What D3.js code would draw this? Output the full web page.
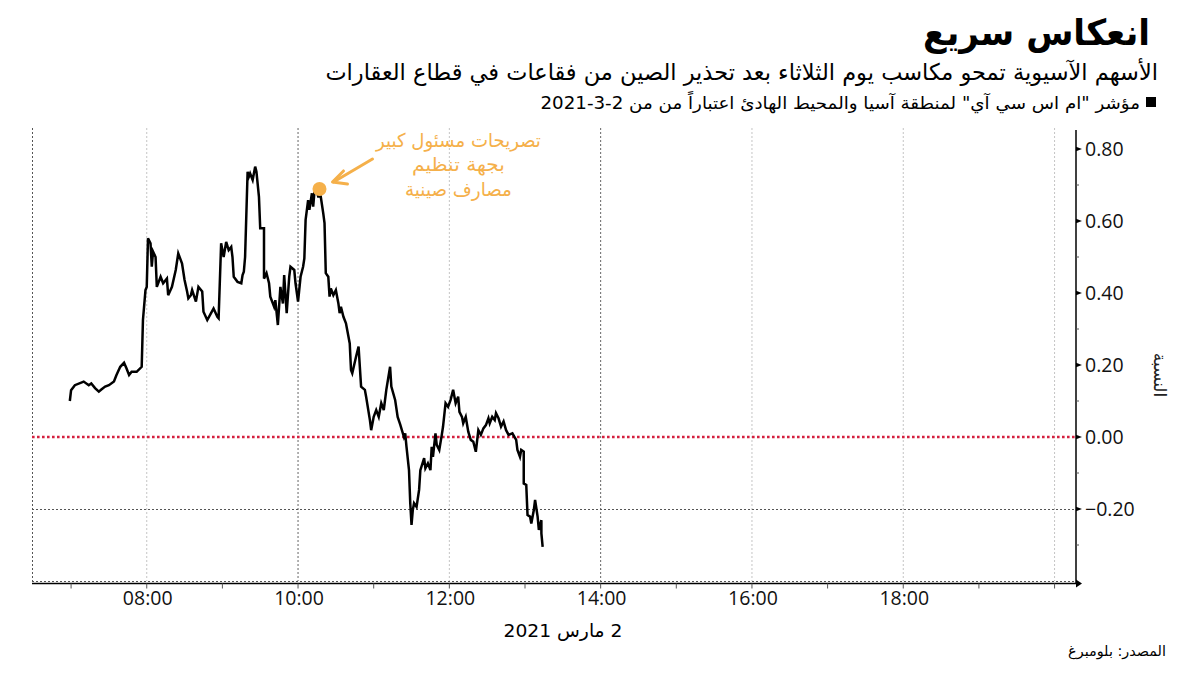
<!DOCTYPE html>
<html><head><meta charset="utf-8">
<script src="https://cdn.jsdelivr.net/npm/d3@7"></script>
<style>body{margin:0;background:#fff}svg{display:block}</style>
</head><body><svg id="c" width="1200" height="675"></svg>
<script>
// ---- data ----
const times = ["06:59","07:00","07:03","07:10","07:14","07:16","07:19","07:22","07:24","07:27","07:30","07:34","07:36","07:39","07:42","07:44","07:46","07:48","07:52","07:56","07:57","07:59","08:00","08:01","08:03","08:04","08:05","08:07","08:08","08:11","08:13","08:16","08:17","08:20","08:23","08:25","08:28","08:30","08:32","08:33","08:35","08:36","08:39","08:41","08:44","08:45","08:48","08:51","08:53","08:56","08:57","08:59","09:01","09:03","09:05","09:07","09:08","09:09","09:12","09:15","09:16","09:17","09:18","09:20","09:21","09:22","09:24","09:26","09:27","09:29","09:30","09:33","09:33","09:35","09:37","09:38","09:41","09:42","09:44","09:46","09:48","09:49","09:51","09:53","09:54","09:57","09:58","10:00","10:02","10:04","10:05","10:06","10:08","10:09","10:11","10:12","10:13","10:15","10:16","10:18","10:20","10:21","10:22","10:24","10:25","10:26","10:28","10:30","10:32","10:33","10:34","10:36","10:38","10:41","10:42","10:43","10:46","10:48","10:50","10:53","10:54","10:57","10:58","11:00","11:02","11:04","11:06","11:08","11:10","11:13","11:14","11:17","11:19","11:21","11:24","11:25","11:26","11:28","11:29","11:30","11:31","11:32","11:34","11:36","11:37","11:40","11:41","11:43","11:45","11:46","11:47","11:49","11:50","11:52","11:54","11:55","11:57","11:59","12:01","12:03","12:05","12:07","12:08","12:10","12:11","12:13","12:15","12:17","12:19","12:21","12:23","12:25","12:27","12:29","12:31","12:32","12:34","12:36","12:37","12:39","12:41","12:43","12:45","12:47","12:50","12:53","12:54","12:56","12:57","12:59","12:59","13:01","13:02","13:04","13:05","13:07","13:08","13:10","13:11","13:13","13:13","13:14"];
const values = [0.100,0.130,0.144,0.154,0.144,0.149,0.136,0.126,0.132,0.140,0.144,0.154,0.172,0.195,0.206,0.190,0.172,0.181,0.181,0.195,0.325,0.408,0.417,0.552,0.538,0.473,0.515,0.500,0.417,0.445,0.427,0.440,0.394,0.417,0.464,0.510,0.482,0.436,0.404,0.385,0.394,0.408,0.376,0.417,0.404,0.348,0.325,0.344,0.357,0.334,0.330,0.538,0.500,0.542,0.519,0.528,0.500,0.445,0.431,0.427,0.450,0.459,0.500,0.737,0.723,0.732,0.714,0.751,0.737,0.667,0.580,0.580,0.440,0.455,0.427,0.390,0.362,0.380,0.311,0.417,0.371,0.450,0.344,0.445,0.473,0.464,0.427,0.376,0.445,0.473,0.496,0.603,0.658,0.631,0.677,0.640,0.681,0.685,0.668,0.668,0.621,0.594,0.455,0.445,0.390,0.413,0.394,0.408,0.371,0.344,0.362,0.334,0.316,0.260,0.186,0.177,0.223,0.251,0.140,0.131,0.112,0.047,0.019,0.056,0.075,0.056,0.094,0.075,0.131,0.195,0.140,0.103,0.056,0.035,0.000,0.010,-0.027,-0.092,-0.184,-0.244,-0.203,-0.184,-0.194,-0.147,-0.092,-0.059,-0.087,-0.073,-0.092,-0.027,-0.055,0.010,-0.022,-0.036,0.006,0.029,0.094,0.084,0.103,0.131,0.094,0.112,0.070,0.056,0.038,0.056,0.015,-0.008,-0.013,-0.041,0.019,0.006,0.024,0.033,0.052,0.038,0.056,0.047,0.066,0.052,0.029,0.043,0.019,0.006,0.010,-0.008,-0.036,-0.055,-0.036,-0.041,-0.129,-0.133,-0.217,-0.221,-0.240,-0.203,-0.175,-0.221,-0.258,-0.231,-0.268,-0.305];

const yMajorTicks = [-0.2, 0, 0.2, 0.4, 0.6, 0.8];
const yMinorTicks = [-0.3, -0.1, 0.1, 0.3, 0.5, 0.7];
const xLabelTicks = ["08:00","10:00","12:00","14:00","16:00","18:00"];
const xHourTicks = ["07:00","08:00","09:00","10:00","11:00","12:00","13:00","14:00","15:00","16:00","17:00","18:00","19:00","20:00"];
const lightGridHours = ["08:00","12:00","16:00","18:00","20:00"];
const darkGridHours = ["10:00","14:00"];
const xDomain = ["06:29","20:17"];
const yDomain = [-0.4, 0.8];
const annotationTime = "10:17";
const annotationValue = 0.689;
const annotationLines = ["تصريحات مسئول كبير","بجهة تنظيم","مصارف صينية"];

const titleText = "انعكاس سريع";
const subtitleText = "الأسهم الآسيوية تمحو مكاسب يوم الثلاثاء بعد تحذير الصين من فقاعات في قطاع العقارات";
const legendText = "مؤشر \"ام اس سي آي\" لمنطقة آسيا والمحيط الهادئ اعتباراً من من 2-3-2021";
const yTitle = "النسبة";
const dateText = "2 مارس 2021";
const sourceText = "المصدر: بلومبرغ";

// ---- chart ----
const svg = d3.select("#c");
const parse = d3.timeParse("%H:%M");
const L = 32, R = 1076, T = 128, B = 581;
const x = d3.scaleTime().domain(xDomain.map(parse)).range([L, R]);
const y = d3.scaleLinear().domain(yDomain).range([B, 149]);
const AR = "'DejaVu Sans', sans-serif";
const NUM = "'Open Sans', sans-serif";
const ORANGE = "#f5b04a";

function fit(sel, w, ax) {
  const n = sel.node(); const len = n.getComputedTextLength();
  if (len > 0) sel.attr("transform", `translate(${ax},0) scale(${w/len},1) translate(${-ax},0)`);
}

// gridlines
svg.append("g").selectAll("line").data(lightGridHours).join("line")
  .attr("x1", d => x(parse(d))).attr("x2", d => x(parse(d)))
  .attr("y1", T).attr("y2", B).attr("stroke", "#c4c4c4").attr("stroke-width", 1).attr("stroke-dasharray", "2,2");
svg.append("g").selectAll("line").data(darkGridHours).join("line")
  .attr("x1", d => x(parse(d))).attr("x2", d => x(parse(d)))
  .attr("y1", T).attr("y2", B).attr("stroke", "#666").attr("stroke-width", 1).attr("stroke-dasharray", "2,2");
// left border
svg.append("line").attr("x1", L + 0.5).attr("x2", L + 0.5).attr("y1", T).attr("y2", B)
  .attr("stroke", "#555").attr("stroke-dasharray", "2,2");
// horizontal gridlines at -0.2 and bottom
svg.append("g").selectAll("line").data([-0.2, -0.4]).join("line")
  .attr("x1", L).attr("x2", R).attr("y1", d => Math.round(y(d)) + 0.5).attr("y2", d => Math.round(y(d)) + 0.5)
  .attr("stroke", "#555").attr("stroke-dasharray", "2,2");

// zero line
svg.append("line").attr("x1", L).attr("x2", R).attr("y1", y(0)).attr("y2", y(0))
  .attr("stroke", "#d4203f").attr("stroke-width", 2.6).attr("stroke-dasharray", "2.6,2.4");

// data line
const pts = times.map((t, i) => ({t: parse(t), v: values[i]}));
svg.append("path").datum(pts)
  .attr("d", d3.line().x(d => x(d.t)).y(d => y(d.v)))
  .attr("fill", "none").attr("stroke", "#000").attr("stroke-width", 2.5).attr("stroke-linejoin", "miter");

// x axis
const xa = svg.append("g").attr("transform", `translate(0,${B + 2.5})`);
xa.append("line").attr("x1", L).attr("x2", R + 2).attr("stroke", "#000").attr("stroke-width", 1.5);
xa.append("path").attr("d", `M${R},-4L${R+6},0L${R},4Z`).attr("fill", "#000");
xa.selectAll("line.tk").data(xHourTicks).join("line").attr("class", "tk")
  .attr("x1", d => x(parse(d))).attr("x2", d => x(parse(d))).attr("y1", 0).attr("y2", 5)
  .attr("stroke", "#555").attr("stroke-width", 1);
xa.selectAll("text").data(xLabelTicks).join("text")
  .attr("x", d => x(parse(d)) + 1).attr("y", 21)
  .attr("text-anchor", "middle").attr("font-family", NUM).attr("font-size", 19.5).attr("fill", "#111")
  .text(d => d);

// y axis
const ya = svg.append("g");
ya.append("line").attr("x1", R).attr("x2", R).attr("y1", T + 2).attr("y2", B + 3).attr("stroke", "#000").attr("stroke-width", 1.5);
ya.selectAll("path.mj").data(yMajorTicks).join("path").attr("class", "mj")
  .attr("d", d => `M${R},${y(d)-2.2}L${R+6},${y(d)}L${R},${y(d)+2.2}Z`).attr("fill", "#000");
ya.selectAll("line.mn").data(yMinorTicks).join("line").attr("class", "mn")
  .attr("x1", R).attr("x2", R + 3).attr("y1", d => y(d)).attr("y2", d => y(d))
  .attr("stroke", "#555").attr("stroke-width", 1);
ya.selectAll("text").data(yMajorTicks).join("text")
  .attr("x", R + 9).attr("y", d => y(d)).attr("dy", "0.36em")
  .attr("font-family", NUM).attr("font-size", 19.5).attr("fill", "#111")
  .text(d => d3.format(".2f")(d));
const yt = svg.append("text").attr("x", 375).attr("y", -1154).attr("transform", null)
  .attr("text-anchor", "middle").attr("font-family", AR).attr("font-size", 17).attr("fill", "#222")
  .attr("transform", "rotate(90)").text(yTitle);

// annotation
const ax = x(parse(annotationTime)), ay = y(annotationValue);
svg.append("circle").attr("cx", ax).attr("cy", ay).attr("r", 7).attr("fill", ORANGE);
svg.append("line").attr("x1", ax + 53).attr("y1", ay - 30).attr("x2", ax + 14).attr("y2", ay - 7)
  .attr("stroke", ORANGE).attr("stroke-width", 3).attr("stroke-linecap", "round");
svg.append("path").attr("d", `M${ax+24},${ay-18}L${ax+13},${ay-7}L${ax+28},${ay-5}`)
  .attr("fill", "none").attr("stroke", ORANGE).attr("stroke-width", 3).attr("stroke-linecap", "round").attr("stroke-linejoin", "round");
const annW = [165, 93, 107];
annotationLines.forEach((s, i) => {
  const t = svg.append("text").attr("x", ax + 139).attr("y", ay - 42 + i * 24.5)
    .attr("text-anchor", "middle").attr("font-family", AR).attr("font-size", 19).attr("fill", ORANGE).text(s);
  fit(t, annW[i], ax + 139);
});

// titles
function rtext(s, xr, yb, size, w, extra) {
  const t = svg.append("text").attr("x", xr).attr("y", yb).attr("direction", "rtl").attr("text-anchor", "start")
    .attr("font-family", AR).attr("font-size", size).attr("fill", "#000").text(s);
  if (extra) extra(t);
  fit(t, w, xr);
  return t;
}
rtext(titleText, 1150, 45, 36, 227, t => t.attr("font-weight", "bold"));
rtext(subtitleText, 1158, 80, 23, 833);
svg.append("rect").attr("x", 1146).attr("y", 97).attr("width", 10).attr("height", 10).attr("fill", "#000");
rtext(legendText, 1140, 109, 17, 600);
rtext(sourceText, 1166, 656, 14, 98);
const dt = svg.append("text").attr("x", 563).attr("y", 637).attr("direction", "rtl").attr("text-anchor", "middle")
  .attr("font-family", AR).attr("font-size", 18).attr("fill", "#000").text(dateText);
fit(dt, 119, 563);
</script></body></html>
